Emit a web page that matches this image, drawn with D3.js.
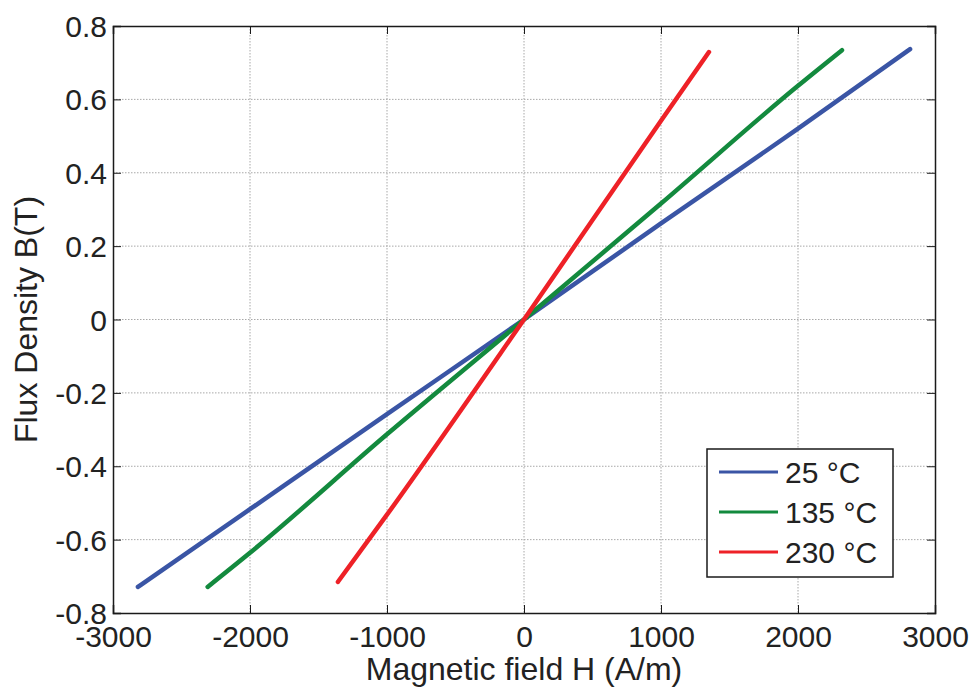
<!DOCTYPE html>
<html>
<head>
<meta charset="utf-8">
<script src="https://cdn.jsdelivr.net/npm/d3@7"></script>
<style>
  html, body { margin: 0; padding: 0; background: #fff; }
  svg { display: block; font-family: "Liberation Sans", Arial, sans-serif; }
</style>
</head>
<body>
<svg id="chart" width="974" height="689"></svg>
<script>
// ---- data ----
const seriesNames = ["25 °C", "135 °C", "230 °C"];
const seriesColors = ["#3a55a5", "#138a3e", "#ee2127"];

const h25  = [-2818, -2000, -1000, 0, 1000, 2000, 2818];
const b25  = [-0.729, -0.517, -0.258, 0, 0.262, 0.52, 0.737];

const h135 = [-2309, -2000, -1000, 0, 1000, 2000, 2321];
const b135 = [-0.729, -0.636, -0.313, 0, 0.316, 0.637, 0.734];

const h230 = [-1358, -1000, 0, 1000, 1350];
const b230 = [-0.715, -0.532, 0, 0.542, 0.729];

const xTicks = [-3000, -2000, -1000, 0, 1000, 2000, 3000];
const yTicks = [-0.8, -0.6, -0.4, -0.2, 0, 0.2, 0.4, 0.6, 0.8];

const xLabel = "Magnetic field H (A/m)";
const yLabel = "Flux Density B(T)";

(function () {
// ---- layout ----
const pL = 113, pR = 935, pT = 26, pB = 613;
const svg = d3.select("#chart");

const x = d3.scaleLinear().domain([-3000, 3000]).range([pL, pR]);
const y = d3.scaleLinear().domain([-0.8, 0.8]).range([pB, pT]);

// grid
const grid = svg.append("g");
grid.selectAll("line.gx").data(xTicks.slice(1, -1)).join("line")
  .attr("x1", d => x(d)).attr("x2", d => x(d))
  .attr("y1", pT).attr("y2", pB)
  .attr("stroke", "#a8a8a8").attr("stroke-width", 1).attr("stroke-dasharray", "1.5,1.5");
grid.selectAll("line.gy").data(yTicks.slice(1, -1)).join("line")
  .attr("x1", pL).attr("x2", pR)
  .attr("y1", d => y(d)).attr("y2", d => y(d))
  .attr("stroke", "#a8a8a8").attr("stroke-width", 1).attr("stroke-dasharray", "1.5,1.5");

// axes with inward ticks
const tickLen = 8;
const fmtX = d => String(d);
const fmtY = d => (d === 0 ? "0" : d.toFixed(1));

const axB = svg.append("g").attr("transform", `translate(0,${pB})`)
  .call(d3.axisBottom(x).tickValues(xTicks).tickSize(-tickLen).tickFormat(fmtX));
const axT = svg.append("g").attr("transform", `translate(0,${pT})`)
  .call(d3.axisTop(x).tickValues(xTicks).tickSize(-tickLen).tickFormat(""));
const axL = svg.append("g").attr("transform", `translate(${pL},0)`)
  .call(d3.axisLeft(y).tickValues(yTicks).tickSize(-tickLen).tickPadding(6).tickFormat(fmtY));
const axR = svg.append("g").attr("transform", `translate(${pR},0)`)
  .call(d3.axisRight(y).tickValues(yTicks).tickSize(-tickLen).tickFormat(""));

[axB, axT, axL, axR].forEach(a => {
  a.select(".domain").attr("stroke", "#1a1a1a").attr("stroke-width", 1.5);
  a.selectAll(".tick line").attr("stroke", "#1a1a1a").attr("stroke-width", 1);
  a.selectAll(".tick text").attr("fill", "#222").attr("font-size", 30)
    .attr("font-family", "'Liberation Sans', Arial, sans-serif");
});
axB.selectAll(".tick text").attr("dy", null).attr("y", 34);
axL.selectAll(".tick text").attr("dy", "0.35em");

// series lines
const line = d3.line().x(d => x(d[0])).y(d => y(d[1])).curve(d3.curveMonotoneX);
const seriesData = [
  d3.zip(h25, b25),
  d3.zip(h135, b135),
  d3.zip(h230, b230)
];
svg.append("g").selectAll("path").data(seriesData).join("path")
  .attr("d", line)
  .attr("fill", "none")
  .attr("stroke", (d, i) => seriesColors[i])
  .attr("stroke-width", 4.5)
  .attr("stroke-linecap", "round")
  .attr("stroke-linejoin", "round");

// axis labels
svg.append("text")
  .attr("x", (pL + pR) / 2).attr("y", 680)
  .attr("text-anchor", "middle").attr("font-size", 32).attr("fill", "#222")
  .text(xLabel);
svg.append("text")
  .attr("transform", `translate(37,${(pT + pB) / 2}) rotate(-90)`)
  .attr("text-anchor", "middle").attr("font-size", 32).attr("fill", "#222")
  .text(yLabel);

// legend
const lg = svg.append("g");
lg.append("rect").attr("x", 707).attr("y", 449).attr("width", 186).attr("height", 128)
  .attr("fill", "#fff").attr("stroke", "#1a1a1a").attr("stroke-width", 1.5);
seriesNames.forEach((name, i) => {
  const yy = 472 + i * 40;
  lg.append("line").attr("x1", 719).attr("x2", 778).attr("y1", yy).attr("y2", yy)
    .attr("stroke", seriesColors[i]).attr("stroke-width", 3);
  lg.append("text").attr("x", 785).attr("y", yy).attr("dy", "0.36em")
    .attr("font-size", 30).attr("fill", "#222").text(name);
});
})();
</script>
</body>
</html>
